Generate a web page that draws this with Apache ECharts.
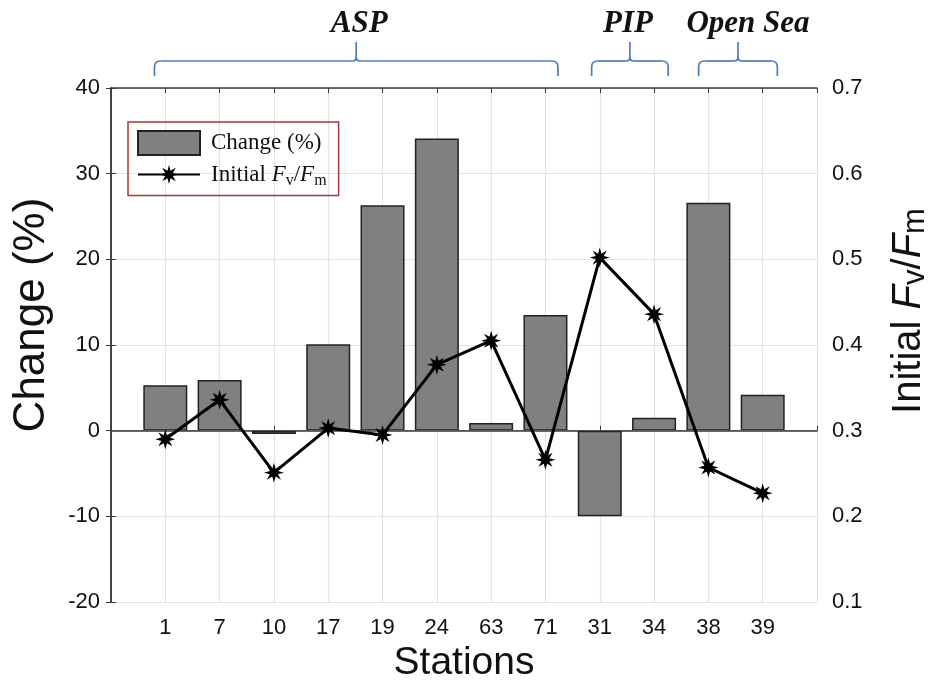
<!DOCTYPE html>
<html><head><meta charset="utf-8">
<script src="https://cdn.jsdelivr.net/npm/echarts@6/dist/echarts.min.js"></script>
<style>html,body{margin:0;padding:0;background:#fff}#c{width:938px;height:680px}</style>
</head><body><div id="c"></div>
<script>
const stations = ['1','7','10','17','19','24','63','71','31','34','38','39'];
const changeVals = [5.3, 5.9, -0.4, 10.1, 26.3, 34.1, 0.9, 13.5, -10.0, 1.5, 26.6, 4.2];
const fvfmVals = [0.290, 0.336, 0.251, 0.303, 0.295, 0.377, 0.405, 0.266, 0.502, 0.436, 0.257, 0.227];
const leftTicks = [-20, -10, 0, 10, 20, 30, 40];
const rightTicks = [0.1, 0.2, 0.3, 0.4, 0.5, 0.6, 0.7];
const groups = [
  {name: 'ASP', from: 0.8, to: 8.23, labelShift: 3},
  {name: 'PIP', from: 8.85, to: 10.26, labelShift: -2},
  {name: 'Open Sea', from: 10.82, to: 12.27, labelShift: 10}
];

// asterisk symbol
let pts = [];
for (let k = 0; k < 16; k++) {
  const a = k * Math.PI / 8, r = (k % 2 === 0) ? 10 : 4.3;
  pts.push((10 + r * Math.cos(a)).toFixed(2) + ' ' + (10 + r * Math.sin(a)).toFixed(2));
}
const starPath = 'path://M' + pts.join(' L') + ' Z';

const sans = 'Liberation Sans';
const serif = 'Liberation Serif';
const axisCol = '#3a3a3a';
const gridCol = '#e3e3e3';

const chart = echarts.init(document.getElementById('c'));
chart.setOption({
  animation: false,
  backgroundColor: '#fff',
  grid: {left: 111, right: 121, top: 88, bottom: 78, containLabel: false, outerBoundsMode: 'none'},
  legend: {
    orient: 'vertical', left: 128, top: 122,
    padding: [8, 12, 7, 9], itemGap: 7,
    borderColor: '#a13b3b', borderWidth: 1.5,
    itemWidth: 62, itemHeight: 24,
    data: [
      {name: 'Change (%)', icon: 'rect'},
      {name: 'Initial Fv/Fm'}
    ],
    textStyle: {
      fontFamily: serif, fontSize: 23, color: '#111',
      rich: {
        n: {fontFamily: serif, fontSize: 23, color: '#111', lineHeight: 28},
        p: {fontFamily: serif, fontSize: 23, color: '#111', lineHeight: 28, padding: [0, 0, 0, 6]},
        i: {fontFamily: serif, fontSize: 23, fontStyle: 'italic', color: '#111', lineHeight: 28},
        s: {fontFamily: serif, fontSize: 16, color: '#111', lineHeight: 15, verticalAlign: 'bottom'}
      }
    },
    formatter: function (name) {
      if (name === 'Initial Fv/Fm') return '{p|Initial }{i|F}{s|v}{n|/}{i|F}{s|m}';
      return '{p|' + name + '}';
    }
  },
  xAxis: [{
    type: 'value', min: 0, max: 13, interval: 1,
    name: 'Stations', nameLocation: 'middle', nameGap: 40,
    nameTextStyle: {fontFamily: sans, fontSize: 39, color: '#111'},
    axisLine: {show: true, lineStyle: {color: axisCol, width: 1.5}},
    axisTick: {show: true, inside: true, length: 5, lineStyle: {color: axisCol}},
    axisLabel: {
      fontFamily: sans, fontSize: 22, color: '#111', margin: 15,
      formatter: function (v) { return (v >= 1 && v <= stations.length) ? stations[v - 1] : ''; }
    },
    splitLine: {show: true, lineStyle: {color: gridCol, width: 1.2}}
  }, {
    type: 'value', min: 0, max: 13, interval: 1, position: 'top',
    axisLine: {show: true, lineStyle: {color: axisCol, width: 1.5}},
    axisTick: {show: true, inside: true, length: 5, lineStyle: {color: axisCol}},
    axisLabel: {show: false}, splitLine: {show: false}
  }],
  yAxis: [{
    type: 'value', min: leftTicks[0], max: leftTicks[leftTicks.length - 1], interval: 10,
    name: 'Change (%)', nameLocation: 'middle', nameGap: 57, nameRotate: 90,
    nameTextStyle: {fontFamily: sans, fontSize: 44, color: '#111', padding: [0, 0, 0, 60]},
    axisLine: {show: true, lineStyle: {color: axisCol, width: 1.5}},
    axisTick: {show: true, inside: true, length: 5, lineStyle: {color: axisCol}},
    axisLabel: {fontFamily: sans, fontSize: 22, color: '#111', margin: 11},
    splitLine: {show: true, lineStyle: {color: gridCol, width: 1.2}}
  }, {
    type: 'value', min: rightTicks[0], max: rightTicks[rightTicks.length - 1], interval: 0.1,
    position: 'right',
    name: '{n|Initial }{i|F}{s|v}{n|/}{i|F}{s|m}',
    nameLocation: 'middle', nameGap: 69, nameRotate: 90,
    nameTextStyle: {
      fontFamily: sans, fontSize: 40, color: '#111', padding: [0, 0, 0, 68],
      rich: {
        n: {fontFamily: sans, fontSize: 40, color: '#111', lineHeight: 45},
        i: {fontFamily: sans, fontSize: 40, fontStyle: 'italic', color: '#111', lineHeight: 45},
        s: {fontFamily: sans, fontSize: 31, color: '#111', lineHeight: 31, verticalAlign: 'bottom'}
      }
    },
    axisLine: {show: true, lineStyle: {color: axisCol, width: 1.5}},
    axisTick: {show: true, inside: true, length: 5, lineStyle: {color: axisCol}},
    axisLabel: {fontFamily: sans, fontSize: 22, color: '#111', margin: 15,
      formatter: function (v) { return v.toFixed(1); }},
    splitLine: {show: false}
  }],
  series: [{
    name: 'Change (%)', type: 'bar', xAxisIndex: 0, yAxisIndex: 0,
    barWidth: 44,
    data: changeVals.map((v, i) => [i + 1, v]),
    itemStyle: {color: '#808080', borderColor: '#222', borderWidth: 1.5},
    markLine: {
      silent: true, symbol: 'none', label: {show: false},
      lineStyle: {color: '#555', width: 1.2, type: 'solid'},
      data: [{yAxis: 0}]
    }
  }, {
    name: 'Initial Fv/Fm', type: 'line', xAxisIndex: 0, yAxisIndex: 1,
    data: fvfmVals.map((v, i) => [i + 1, v]),
    lineStyle: {color: '#000', width: 3},
    itemStyle: {color: '#000'},
    symbol: starPath, symbolSize: 20, z: 5
  }]
});

// group braces
const braceCol = '#4a7ebb';
const yEnd = 76, yH = 61, yTip = 42, r = 6;
const bs = {stroke: braceCol, lineWidth: 1.7, fill: null};
const gfx = [];
groups.forEach(g => {
  const x1 = chart.convertToPixel({xAxisIndex: 0}, g.from);
  const x2 = chart.convertToPixel({xAxisIndex: 0}, g.to);
  const m = (x1 + x2) / 2;
  gfx.push({type: 'line', shape: {x1: x1, y1: yEnd, x2: x1, y2: yH + r}, style: bs});
  gfx.push({type: 'bezierCurve', shape: {x1: x1, y1: yH + r, cpx1: x1, cpy1: yH, x2: x1 + r, y2: yH}, style: bs});
  gfx.push({type: 'line', shape: {x1: x1 + r, y1: yH, x2: m - 4, y2: yH}, style: bs});
  gfx.push({type: 'bezierCurve', shape: {x1: m - 4, y1: yH, cpx1: m, cpy1: yH, x2: m, y2: yH - 4}, style: bs});
  gfx.push({type: 'line', shape: {x1: m, y1: yH - 4, x2: m, y2: yTip}, style: bs});
  gfx.push({type: 'bezierCurve', shape: {x1: m, y1: yH - 4, cpx1: m, cpy1: yH, x2: m + 4, y2: yH}, style: bs});
  gfx.push({type: 'line', shape: {x1: m + 4, y1: yH, x2: x2 - r, y2: yH}, style: bs});
  gfx.push({type: 'bezierCurve', shape: {x1: x2 - r, y1: yH, cpx1: x2, cpy1: yH, x2: x2, y2: yH + r}, style: bs});
  gfx.push({type: 'line', shape: {x1: x2, y1: yH + r, x2: x2, y2: yEnd}, style: bs});
  gfx.push({type: 'text', x: m + g.labelShift, y: 24,
    style: {text: g.name, fontFamily: serif, fontSize: 31, fontWeight: 'bold', fontStyle: 'italic',
      fill: '#111', textAlign: 'center', textVerticalAlign: 'middle'}});
});
chart.setOption({graphic: gfx});
</script>
</body></html>
